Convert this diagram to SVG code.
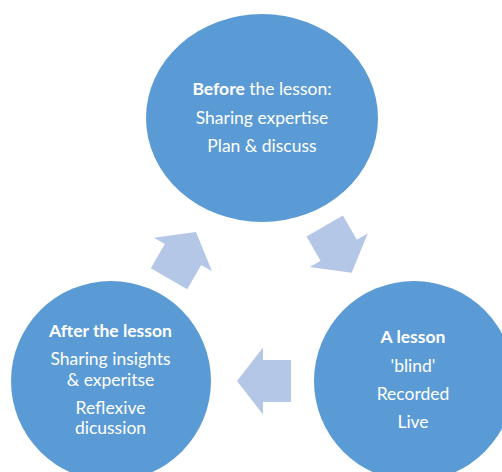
<svg xmlns="http://www.w3.org/2000/svg" width="502" height="472" viewBox="0 0 502 472">
  <style>
    .node { fill: #5B9BD5; }
    .arrow { fill: #B4C7E7; }
    text { font-family: Lato, "Open Sans", "Liberation Sans", sans-serif; font-size: 17.5px; fill: #FFFFFF; text-anchor: middle; }
    .b { font-weight: bold; }
  </style>
  <defs>
    <polygon id="arr" points="27,0 1,-33.5 1,-21 -27,-21 -27,21 1,21 1,33.5"/>
  </defs>
  <rect width="502" height="472" fill="#FFFFFF"/>
  <g id="connectors">
    <use href="#arr" class="arrow" transform="translate(338.2,249.3) rotate(60)"/>
    <use href="#arr" class="arrow" transform="translate(264,381) rotate(180)"/>
    <use href="#arr" class="arrow" transform="translate(182.5,255.4) rotate(-60)"/>
  </g>
  <g id="before">
    <ellipse class="node" cx="262" cy="118" rx="116" ry="104"/>
    <text x="262" y="95"><tspan class="b">Before</tspan> the lesson:</text>
    <text x="262" y="124">Sharing expertise</text>
    <text x="262" y="152">Plan &amp; discuss</text>
  </g>
  <g id="lesson">
    <circle class="node" cx="414" cy="381" r="100"/>
    <text x="413" y="343" class="b">A lesson</text>
    <text x="413" y="372">'blind'</text>
    <text x="413" y="400">Recorded</text>
    <text x="413" y="428">Live</text>
  </g>
  <g id="after">
    <circle class="node" cx="111" cy="381" r="100"/>
    <text x="110.5" y="337" class="b">After the lesson</text>
    <text x="110.5" y="365">Sharing insights</text>
    <text x="110.5" y="386">&amp; experitse</text>
    <text x="110.5" y="414">Reflexive</text>
    <text x="110.5" y="434">dicussion</text>
  </g>
</svg>
